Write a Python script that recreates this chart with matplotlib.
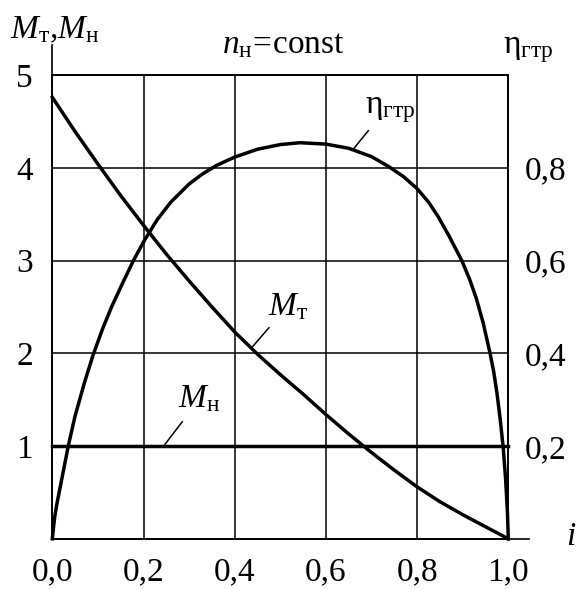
import matplotlib
matplotlib.use('Agg')
import matplotlib.pyplot as plt
from matplotlib.ticker import FuncFormatter

plt.rcParams['font.family'] = 'Liberation Serif'
plt.rcParams['mathtext.fontset'] = 'custom'
plt.rcParams['mathtext.rm'] = 'Liberation Serif'
plt.rcParams['mathtext.it'] = 'Liberation Serif:italic'

# момент турбины M_т(i)
i_mt = [0.0, 0.05, 0.1, 0.15, 0.2, 0.25, 0.3, 0.35, 0.4, 0.45, 0.5, 0.55,
        0.6, 0.65, 0.7, 0.75, 0.8, 0.85, 0.9, 0.95, 1.0]
m_t = [4.76, 4.39, 4.04, 3.70, 3.38, 3.07, 2.78, 2.50, 2.23, 1.99, 1.77, 1.56,
       1.34, 1.13, 0.93, 0.74, 0.56, 0.40, 0.26, 0.13, 0.0]

# момент насоса M_н = const
i_mn = [0.0, 1.0]
m_n = [1.0, 1.0]

# КПД гидротрансформатора
i_eta = [0.0, 0.005, 0.01, 0.02, 0.035, 0.05, 0.07, 0.089, 0.11, 0.13, 0.155,
         0.178, 0.2, 0.23, 0.26, 0.3, 0.33, 0.36, 0.4, 0.45, 0.5, 0.543,
         0.6, 0.65, 0.7, 0.737, 0.77, 0.8, 0.825, 0.846, 0.87, 0.898, 0.915,
         0.93, 0.945, 0.96, 0.968, 0.975, 0.982, 0.989, 0.994, 0.998, 1.0]
eta = [0.0, 0.045, 0.075, 0.125, 0.2, 0.265, 0.335, 0.395, 0.452, 0.5, 0.553,
       0.6, 0.64, 0.688, 0.726, 0.765, 0.787, 0.805, 0.823, 0.84, 0.85, 0.854,
       0.851, 0.842, 0.824, 0.803, 0.781, 0.755, 0.726, 0.695, 0.653, 0.6, 0.56,
       0.518, 0.465, 0.4, 0.36, 0.315, 0.26, 0.195, 0.13, 0.06, 0.0]

x_ticks = [0.0, 0.2, 0.4, 0.6, 0.8, 1.0]
m_ticks = [1, 2, 3, 4, 5]
eta_ticks = [0.2, 0.4, 0.6, 0.8]

W, H = 577, 589
fig = plt.figure(figsize=(W / 100, H / 100), dpi=100)
ax = fig.add_axes([52.3 / W, (H - 538.8) / H, 456 / W, 463.8 / H])
ax.set_xlim(0, 1)
ax.set_ylim(0, 5)
ax.set_xticks(x_ticks)
ax.set_yticks(m_ticks)
ax.grid(True, color='black', lw=1.1)
ax.set_axisbelow(True)
comma = FuncFormatter(lambda v, p: f'{v:.1f}'.replace('.', ','))
ax.xaxis.set_major_formatter(comma)
ax.yaxis.set_major_formatter(FuncFormatter(lambda v, p: f'{v:.0f}'))
ax.tick_params(axis='x', length=0, labelsize=24, pad=13)
ax.tick_params(axis='y', length=0, labelsize=24, pad=14)
for s in ax.spines.values():
    s.set_linewidth(1.2)

ax2 = ax.twinx()
ax2.set_ylim(0, 1)
ax2.set_yticks(eta_ticks)
ax2.yaxis.set_major_formatter(comma)
ax2.tick_params(axis='y', length=0, labelsize=24, pad=12)
for s in ax2.spines.values():
    s.set_linewidth(1.2)

# продолжение осей за сетку
ax.plot([0, 0], [1, 1.065], color='black', lw=1.2, transform=ax.transAxes, clip_on=False)
ax.plot([1, 1.046], [0, 0], color='black', lw=1.2, transform=ax.transAxes, clip_on=False)

ax.plot(i_mt, m_t, color='black', lw=2.5, clip_on=False)
ax.plot(i_mn, m_n, color='black', lw=2.5, clip_on=False)
ax2.plot(i_eta, eta, color='black', lw=2.5, clip_on=False)

# подписи кривых с выносками
ax.text(0.473, 2.41, r'$M_{\mathrm{т}}$', fontsize=24, va='baseline')
ax.plot([0.439, 0.475], [2.07, 2.275], color='black', lw=1.1)
ax.text(0.276, 1.42, r'$M_{\mathrm{н}}$', fontsize=24, va='baseline')
ax.plot([0.247, 0.285], [1.018, 1.262], color='black', lw=1.1)
ax.text(0.686, 4.59, r'$\mathrm{η}_{\mathrm{гтр}}$', fontsize=24, va='baseline')
ax.plot([0.660, 0.693], [4.20, 4.40], color='black', lw=1.1)

# подписи осей
fig.text(10 / W, 1 - 38 / H, r'$M_{\mathrm{т}}{,}M_{\mathrm{н}}$', fontsize=24, va='baseline')
fig.text(283 / W, 1 - 53 / H, r'$n_{\mathrm{н}}\!=\!\mathrm{const}$', fontsize=24,
         ha='center', va='baseline')
fig.text(503 / W, 1 - 53 / H, r'$\mathrm{η}_{\mathrm{гтр}}$', fontsize=24, va='baseline')
fig.text(571 / W, 1 - 537 / H, r'$i$', fontsize=24, ha='center', va='center')

fig.savefig('out.png', dpi=100)
